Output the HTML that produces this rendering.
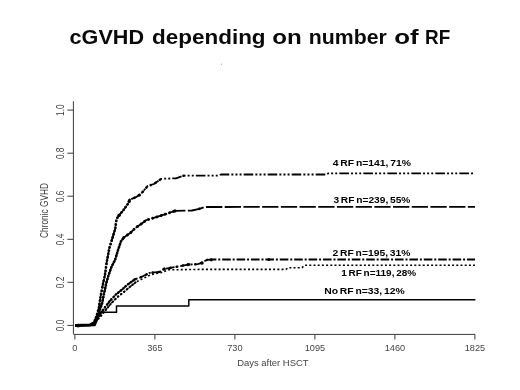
<!DOCTYPE html>
<html>
<head>
<meta charset="utf-8">
<title>cGVHD depending on number of RF</title>
<style>
html,body{margin:0;padding:0;background:#fff;}
body{width:520px;height:390px;overflow:hidden;font-family:"Liberation Sans",sans-serif;}
svg{display:block;}
.t{font-family:"Liberation Sans",sans-serif;}
</style>
</head>
<body>
<svg width="520" height="390" viewBox="0 0 520 390">
<rect width="520" height="390" fill="#fff"/>
<!-- title -->
<text class="t" y="43.8" font-size="20.4" font-weight="bold" fill="#0a0a0a"><tspan x="69.6" textLength="74.4" lengthAdjust="spacingAndGlyphs">cGVHD</tspan> <tspan x="152" textLength="113.6" lengthAdjust="spacingAndGlyphs">depending</tspan> <tspan x="272.2" textLength="29.5" lengthAdjust="spacingAndGlyphs">on</tspan> <tspan x="308.8" textLength="78" lengthAdjust="spacingAndGlyphs">number</tspan> <tspan x="394.2" textLength="24.4" lengthAdjust="spacingAndGlyphs">of</tspan> <tspan x="425" textLength="25.2" lengthAdjust="spacingAndGlyphs">RF</tspan></text>
<circle cx="221.5" cy="64.2" r="0.6" fill="#aaa"/>
<!-- axes -->
<g stroke="#3a3a3a" stroke-width="1" fill="none">
<path d="M73.4 101.2V334"/>
<path d="M73.4 334.4H475"/>
<path d="M67.4 110.1H73.4M67.4 153.2H73.4M67.4 196.2H73.4M67.4 239.3H73.4M67.4 282.3H73.4M67.4 325.4H73.4"/>
<path d="M74.9 334.4V339.6M154.9 334.4V339.6M234.9 334.4V339.6M314.9 334.4V339.6M394.9 334.4V339.6M474.9 334.4V339.6"/>
</g>
<!-- tick labels -->
<g class="t" font-size="9.2" fill="#444" text-anchor="middle">
<text x="74.9" y="351">0</text>
<text x="154.9" y="351">365</text>
<text x="234.9" y="351">730</text>
<text x="314.9" y="351">1095</text>
<text x="394.9" y="351">1460</text>
<text x="474.9" y="351">1825</text>
<text x="272.9" y="366" font-size="9.5" textLength="71.3" lengthAdjust="spacingAndGlyphs">Days after HSCT</text>
</g>
<g class="t" font-size="10.1" fill="#3c3c3c">
<text transform="translate(63.8 116.0) rotate(-90)" textLength="11.6" lengthAdjust="spacingAndGlyphs">1.0</text>
<text transform="translate(63.8 159.1) rotate(-90)" textLength="11.6" lengthAdjust="spacingAndGlyphs">0.8</text>
<text transform="translate(63.8 202.1) rotate(-90)" textLength="11.6" lengthAdjust="spacingAndGlyphs">0.6</text>
<text transform="translate(63.8 245.2) rotate(-90)" textLength="11.6" lengthAdjust="spacingAndGlyphs">0.4</text>
<text transform="translate(63.8 288.2) rotate(-90)" textLength="11.6" lengthAdjust="spacingAndGlyphs">0.2</text>
<text transform="translate(63.8 331.3) rotate(-90)" textLength="11.6" lengthAdjust="spacingAndGlyphs">0.0</text>
<text transform="translate(47.6 237.9) rotate(-90)" textLength="54.8" lengthAdjust="spacingAndGlyphs">Chronic GVHD</text>
</g>
<!-- curves -->
<g fill="none" stroke="#000" stroke-linejoin="round">
<path stroke-width="1.5" d="M75.0 325.4L95.0 325.4L100.5 312.3L116.5 312.3L116.5 306.0L188.8 306.0L188.8 299.8L475.4 299.8"/>
<path stroke-width="1.8" stroke-dasharray="9.6 2.1 2 2.1 2 2.1 2 2.1" stroke-dashoffset="17" d="M75.0 325.4L90.0 325.1L93.0 323.3L94.8 320.5L96.5 316.2L98.8 308.5L100.4 297.7L102.7 285.4L105.0 274.6L106.5 263.5L109.4 248.0L112.3 238.5L115.2 228.8L116.5 219.2L119.0 215.4L123.8 209.6L128.5 203.0L129.5 199.9L135.9 197.2L141.2 193.6L147.5 186.2L153.8 184.0L161.3 178.8L176.0 178.3L183.5 175.6L217.3 175.6L221.0 174.5L326.5 174.5L328.5 173.3L475.0 173.3"/>
<path stroke-width="1.8" stroke-dasharray="16.3 2.4" stroke-dashoffset="4.5" d="M75.0 325.4L91.0 325.1L94.0 323.5L96.0 320.0L98.0 314.6L102.0 303.8L104.2 293.0L106.5 282.3L108.8 274.6L111.3 267.3L115.2 259.6L118.0 250.0L121.0 241.3L123.8 237.5L130.6 232.7L135.4 227.9L141.2 224.0L146.4 220.0L153.8 217.9L165.5 214.1L175.0 210.9L192.0 210.5L199.3 208.8L204.6 207.0L475.0 206.8"/>
<path stroke-width="1.8" stroke-dasharray="8.6 1.9 2 1.9" stroke-dashoffset="1.5" d="M75.0 325.4L92.0 325.0L95.0 322.0L97.5 318.0L100.4 313.5L105.0 307.3L109.6 301.2L115.8 294.6L122.0 289.6L126.5 285.4L135.0 279.2L140.0 277.7L143.8 275.8L149.6 272.9L159.2 271.9L164.0 269.0L174.6 267.1L188.0 264.6L197.7 264.2L202.5 262.7L206.3 260.0L211.0 259.5L475.0 259.5"/>
<path stroke-width="1.6" stroke-dasharray="2 2.2" d="M75.0 325.4L92.0 325.0L95.5 322.5L98.5 318.5L102.0 314.5L106.5 309.0L111.5 303.0L117.5 297.0L123.5 292.3L128.5 288.0L136.0 282.0L141.0 279.6L145.0 277.6L151.0 274.6L161.0 272.6L169.0 269.8L200.0 269.4L286.0 269.4L288.0 267.7L302.0 267.7L304.5 265.2L475.0 265.2"/>
<!-- event markers -->
<g stroke-linecap="round">
<path stroke-width="3" stroke-linecap="butt" d="M75.0 325.4L90.0 325.1L93.0 323.3"/>
<path stroke-width="2.7" stroke-dasharray="0.1 3.3" d="M93.0 323.3L94.8 320.5L96.5 316.2L98.8 308.5L100.4 297.7L102.7 285.4L105.0 274.6L106.5 263.5L109.4 248.0L112.3 238.5L115.2 228.8L116.5 219.2L119.0 215.4L123.8 209.6L128.5 203.0L129.5 199.9"/>
<path stroke-width="2.6" stroke-dasharray="0.1 5.2" d="M129.5 199.9L135.9 197.2L141.2 193.6L147.5 186.2L153.8 184.0L161.3 178.8"/>
<path stroke-width="2.7" stroke-dasharray="0.1 3" d="M94.0 323.5L96.0 320.0L98.0 314.6L102.0 303.8L104.2 293.0L106.5 282.3L108.8 274.6L111.3 267.3L115.2 259.6L118.0 250.0L121.0 241.3L123.8 237.5"/>
<path stroke-width="2.9" stroke-dasharray="0.1 4.3" d="M123.8 237.5L130.6 232.7L135.4 227.9L141.2 224.0L146.4 220.0L153.8 217.9L165.5 214.1L175.0 210.9"/>
<path stroke-width="2.5" stroke-dasharray="0.1 3.2" d="M97.5 318.0L100.4 313.5L105.0 307.3L109.6 301.2L115.8 294.6L122.0 289.6L126.5 285.4L135.0 279.2"/>
<path stroke-width="2.3" stroke-dasharray="0.1 3.6" d="M98.5 318.5L102.0 314.5L106.5 309.0L111.5 303.0L117.5 297.0L123.5 292.3L128.5 288.0L136.0 282.0"/>
<path stroke-width="2.6" stroke-dasharray="0.1 6.2" d="M135.0 279.2L140.0 277.7L143.8 275.8L149.6 272.9L159.2 271.9L164.0 269.0L174.6 267.1L188.0 264.6L197.7 264.2L202.5 262.7L206.3 260.0L211.0 259.5"/>
</g>
</g>
<g fill="#000"><circle cx="268.8" cy="259.5" r="1.6"/><circle cx="164" cy="269" r="1.6"/><circle cx="188" cy="264.6" r="1.6"/><circle cx="202" cy="263" r="1.7"/><circle cx="211.2" cy="259.8" r="1.6"/><circle cx="78.2" cy="325.6" r="1.9"/><circle cx="119" cy="215.4" r="1.7"/><circle cx="129.2" cy="201.5" r="1.6"/><circle cx="139.5" cy="195" r="1.5"/><circle cx="175" cy="210.9" r="1.6"/><circle cx="199.3" cy="208.8" r="1.4"/><circle cx="183.5" cy="175.8" r="1.3"/></g>
<!-- labels -->
<g class="t" font-size="9.8" font-weight="bold" fill="#000" word-spacing="-1">
<text x="332.7" y="166.3" textLength="78.3" lengthAdjust="spacingAndGlyphs">4 RF n=141, 71%</text>
<text x="333.4" y="203.3" textLength="77" lengthAdjust="spacingAndGlyphs">3 RF n=239, 55%</text>
<text x="332.5" y="256.3" textLength="78" lengthAdjust="spacingAndGlyphs">2 RF n=195, 31%</text>
<text x="341.2" y="275.6" textLength="75" lengthAdjust="spacingAndGlyphs">1 RF n=119, 28%</text>
<text x="324.2" y="293.6" textLength="80.5" lengthAdjust="spacingAndGlyphs">No RF n=33, 12%</text>
</g>
</svg>
</body>
</html>
